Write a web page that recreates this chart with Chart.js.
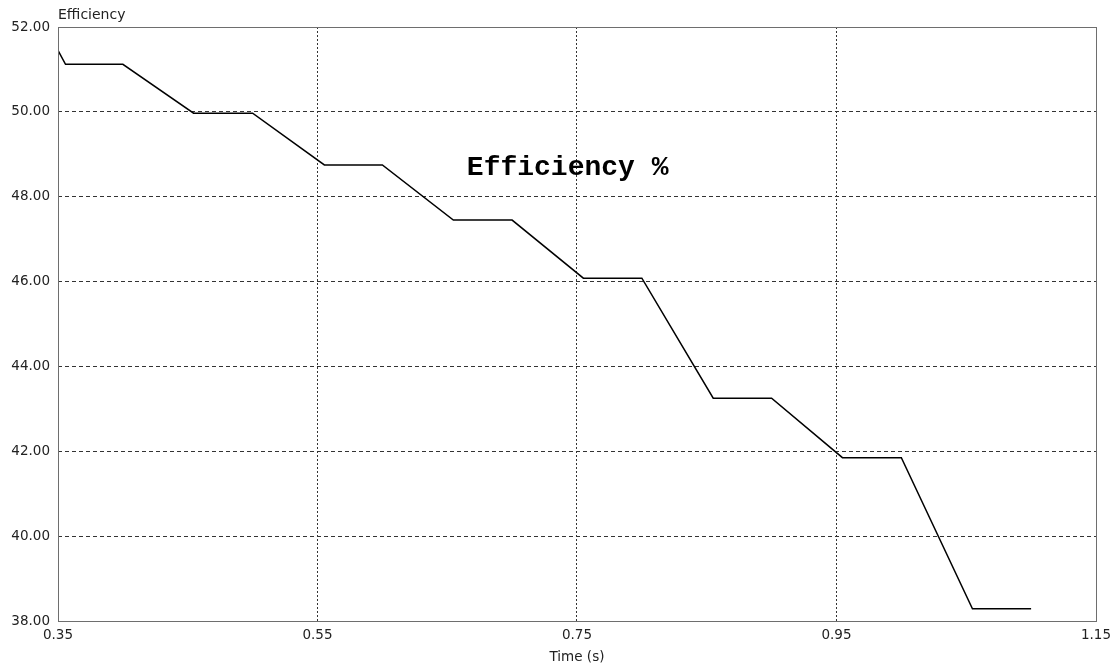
<!DOCTYPE html>
<html>
<head>
<meta charset="utf-8">
<title>Efficiency</title>
<script src="https://cdn.jsdelivr.net/npm/chart.js@4.4.1/dist/chart.umd.min.js"></script>
<style>
  html, body { margin: 0; padding: 0; background: #ffffff; }
  #wrap { width: 1117px; height: 669px; position: relative; }
</style>
</head>
<body>
<div id="wrap"><canvas id="chart"></canvas></div>
<script>
// Efficiency trace: time (s) against efficiency (%)
const timeS = [0.350, 0.3558, 0.400, 0.4545, 0.500, 0.5553, 0.600, 0.6547, 0.700, 0.7549, 0.800, 0.855, 0.900, 0.9546, 1.000, 1.0548, 1.100];
const efficiency = [51.45, 51.12, 51.12, 49.97, 49.97, 48.75, 48.75, 47.45, 47.45, 46.08, 46.08, 43.25, 43.25, 41.85, 41.85, 38.29, 38.29];

// Axis ranges and tick spacing
const xRange = [0.35, 1.15];
const xStep = 0.2;
const yRange = [38, 52];
const yStep = 2;

const yAxisLabel = 'Efficiency';
const xAxisLabel = 'Time (s)';
const plotCaption = 'Efficiency %';

const labelFont = '"DejaVu Sans", "Liberation Sans", sans-serif';

const points = timeS.map((t, i) => ({ x: t, y: efficiency[i] }));

// Inner grid lines only; the outer edges are covered by the frame
const innerGridColor = ctx =>
  (ctx.index === 0 || ctx.index === ctx.scale.ticks.length - 1) ? 'rgba(0,0,0,0)' : '#333333';

// Frame around the plot area, axis label above the y axis, and the caption
const framePlugin = {
  id: 'frame',
  afterDraw(chart) {
    const { ctx, chartArea: a } = chart;
    ctx.save();
    ctx.strokeStyle = '#6e6e6e';
    ctx.lineWidth = 1;
    ctx.setLineDash([]);
    ctx.strokeRect(Math.round(a.left) + 0.5, Math.round(a.top) + 0.5,
                   Math.round(a.right - a.left), Math.round(a.bottom - a.top));

    ctx.fillStyle = '#222222';
    ctx.font = '14px ' + labelFont;
    ctx.textAlign = 'left';
    ctx.textBaseline = 'middle';
    ctx.fillText(yAxisLabel, a.left, a.top - 12);

    ctx.fillStyle = '#000000';
    ctx.font = 'bold 28px "Liberation Mono", "Courier New", monospace';
    ctx.textAlign = 'center';
    ctx.textBaseline = 'middle';
    ctx.fillText(plotCaption, a.left + (a.right - a.left) * 0.491, a.top + (a.bottom - a.top) * 0.238);
    ctx.restore();
  }
};

new Chart(document.getElementById('chart'), {
  type: 'line',
  data: {
    datasets: [{
      data: points,
      borderColor: '#000000',
      borderWidth: 1.5,
      pointRadius: 0,
      tension: 0,
      fill: false
    }]
  },
  options: {
    responsive: true,
    maintainAspectRatio: false,
    animation: false,
    layout: { padding: { top: 27, right: 21, bottom: 0, left: 0 } },
    plugins: {
      legend: { display: false },
      tooltip: { enabled: false },
      title: { display: false }
    },
    scales: {
      x: {
        type: 'linear',
        min: xRange[0],
        max: xRange[1],
        afterFit(scale) { scale.height = 48; },
        ticks: {
          stepSize: xStep,
          padding: 6,
          color: '#222222',
          font: { family: labelFont, size: 13.5 },
          maxRotation: 0,
          callback: v => Number(v).toFixed(2)
        },
        grid: { color: innerGridColor, lineWidth: 1, drawTicks: false },
        border: { display: false, dash: [2, 2] },
        title: {
          display: true,
          text: xAxisLabel,
          color: '#222222',
          font: { family: labelFont, size: 13.5 },
          padding: { top: 0, bottom: 3 }
        }
      },
      y: {
        min: yRange[0],
        max: yRange[1],
        afterFit(scale) { scale.width = 58; },
        ticks: {
          stepSize: yStep,
          padding: 8,
          color: '#222222',
          font: { family: labelFont, size: 13.5 },
          callback: v => Number(v).toFixed(2)
        },
        grid: { color: innerGridColor, lineWidth: 1, drawTicks: false },
        border: { display: false, dash: [4, 3] }
      }
    }
  },
  plugins: [framePlugin]
});
</script>
</body>
</html>
